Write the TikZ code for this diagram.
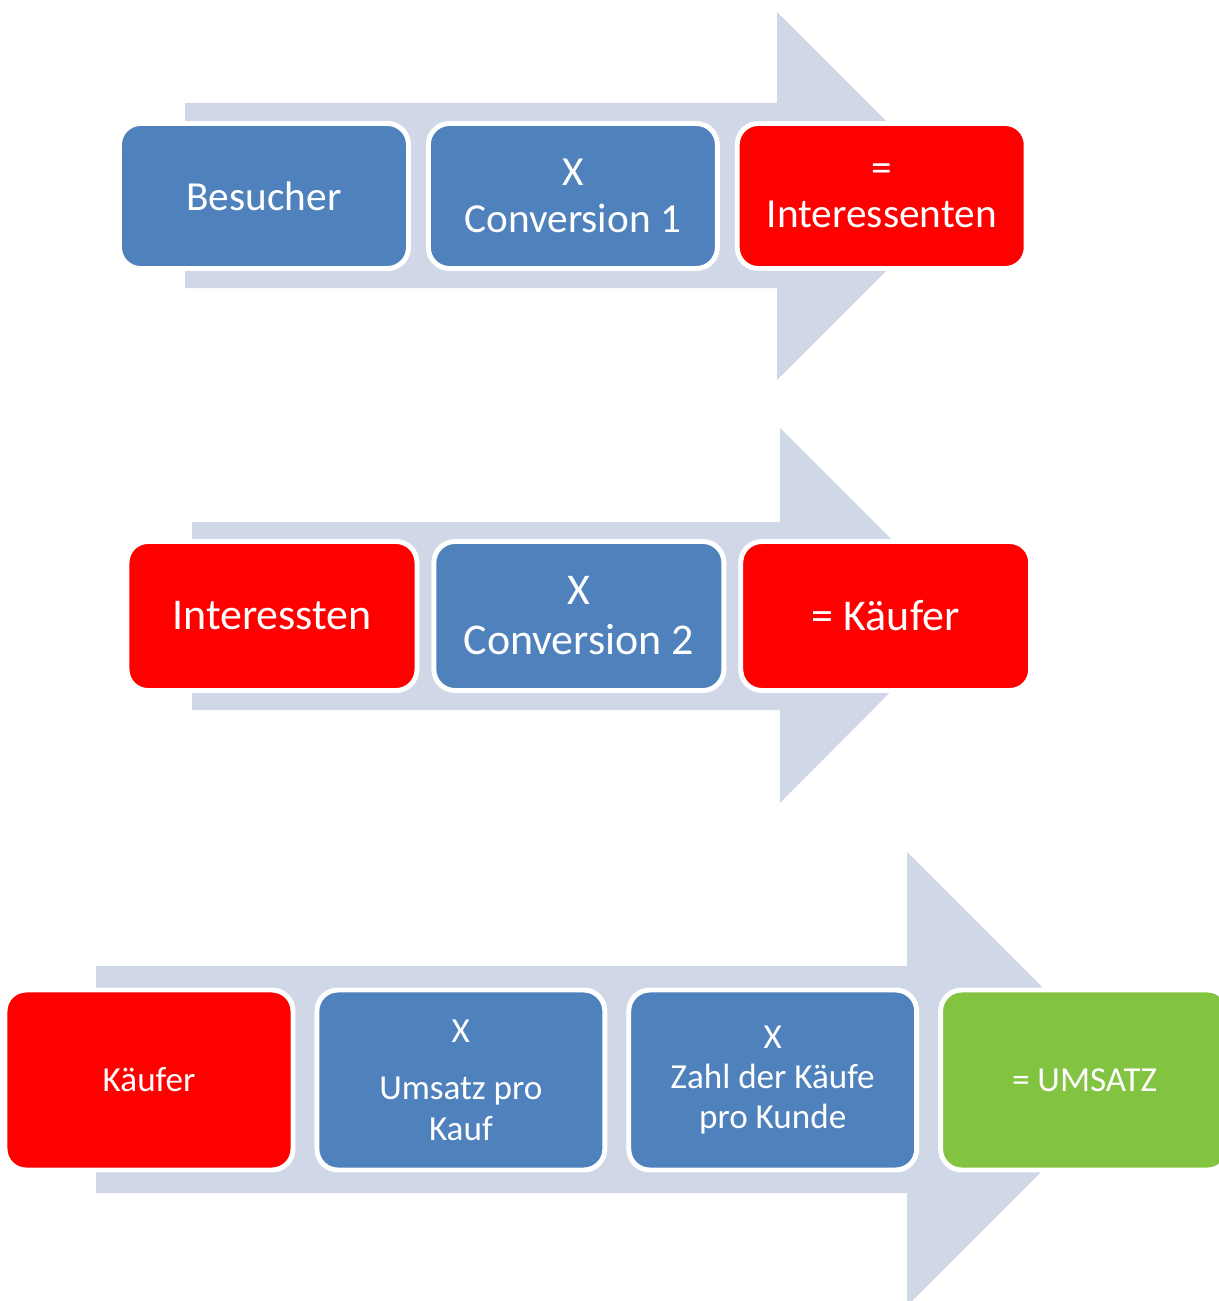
\documentclass[tikz,border=0pt]{standalone}
\usepackage{fontspec}
\setmainfont{Carlito}
\usetikzlibrary{positioning}
\definecolor{boxblue}{HTML}{4F81BD}
\definecolor{boxred}{HTML}{FF0000}
\definecolor{boxgreen}{HTML}{82C341}
\definecolor{arrowgray}{HTML}{D0D8E8}
\tikzset{
  box/.style={draw=white, line width=2.8pt, rounded corners=0.42cm, text=white,
    align=center, inner sep=0pt},
  rowone/.style={box, minimum width=5.78cm, minimum height=2.9cm,
    font=\fontsize{23.5}{26.5}\selectfont},
  rowtwo/.style={box, minimum width=5.8cm, minimum height=2.98cm,
    font=\fontsize{25}{28.5}\selectfont},
  rowthree/.style={box, minimum width=5.76cm, minimum height=3.6cm,
    font=\fontsize{20}{22.8}\selectfont},
  blue/.style={fill=boxblue},
  red/.style={fill=boxred},
  green/.style={fill=boxgreen},
  bigarrow/.style={fill=arrowgray}
}
\begin{document}
\begin{tikzpicture}[x=0.02cm, y=-0.02cm]
    \useasboundingbox (0,0) rectangle (1219,1301);
    % arrows behind the boxes
    \fill[bigarrow] (185,103) -- (777,103) -- (777,12) -- (961,196) -- (777,380) -- (777,288) -- (185,288) -- cycle;
    \fill[bigarrow] (192,522) -- (780,522) -- (780,428) -- (967,615) -- (780,803) -- (780,710) -- (192,710) -- cycle;
    \fill[bigarrow] (96,966) -- (907,966) -- (907,852) -- (1134,1079) -- (907,1306) -- (907,1193) -- (96,1193) -- cycle;

    % first row
    \node[rowone, blue] (besucher) at (264,196) {Besucher};
    \node[rowone, blue, right=0.3cm of besucher] (conv1) {X\\Conversion 1};
    \node[rowone, red, right=0.3cm of conv1] (interessenten) {=\\Interessenten};

    % second row
    \node[rowtwo, red] (interessten) at (272,616) {Interessten};
    \node[rowtwo, blue, right=0.24cm of interessten] (conv2) {X\\Conversion 2};
    \node[rowtwo, red, right=0.24cm of conv2] (kaeufer) {= Käufer};

    % third row
    \node[rowthree, red] (kaeuferb) at (149,1080) {Käufer};
    \node[rowthree, blue, right=0.38cm of kaeuferb] (umsatzkauf) {X\\[10pt]Umsatz pro\\Kauf};
    \node[rowthree, blue, right=0.38cm of umsatzkauf] (kaeufezahl) {X\\Zahl der Käufe\\pro Kunde};
    \node[rowthree, green, right=0.38cm of kaeufezahl] (umsatz) {= UMSATZ};
\end{tikzpicture}
\end{document}
